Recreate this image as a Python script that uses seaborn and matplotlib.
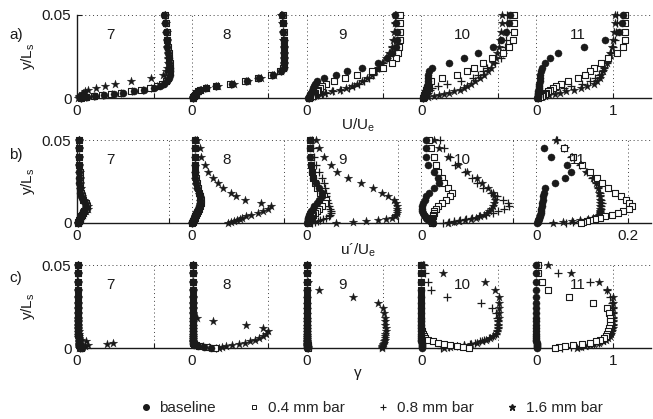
import numpy as np
import pandas as pd
import matplotlib
matplotlib.use('Agg')
import matplotlib.pyplot as plt
from matplotlib.lines import Line2D
import seaborn as sns

# wall-normal positions y/Ls shared by all profiles
Y = [0.050, 0.045, 0.040, 0.035, 0.031, 0.027, 0.024, 0.021, 0.018, 0.016, 0.014, 0.012,
     0.010, 0.0085, 0.007, 0.006, 0.005, 0.004, 0.0032, 0.0025, 0.0018, 0.0012, 0.0007, 0.0003]
STATIONS = ['7', '8', '9', '10', '11']
CASES = ['baseline', '0.4 mm bar', '0.8 mm bar', '1.6 mm bar']
nan = np.nan

# a) mean velocity U/Ue, one list per station
U_base = [
    [1.14, 1.15, 1.16, 1.17, 1.18, 1.19, 1.20, 1.20, 1.21, 1.21, 1.21, 1.20, 1.18, 1.14, 1.08, 1.00, 0.88, 0.74, 0.60, 0.48, 0.35, 0.23, 0.13, 0.05],
    [1.18, 1.19, 1.19, 1.20, 1.20, 1.21, 1.21, 1.21, 1.20, 1.16, 1.06, 0.88, 0.72, 0.52, 0.32, 0.18, 0.11, 0.08, 0.06, 0.05, 0.04, 0.03, 0.02, 0.01],
    [1.16, 1.17, 1.18, 1.18, 1.17, 1.12, 1.05, 0.93, 0.72, 0.53, 0.38, 0.23, 0.13, 0.11, 0.10, 0.09, 0.08, 0.07, 0.06, 0.05, 0.05, 0.04, 0.03, 0.02],
    [1.16, 1.14, 1.10, 1.04, 0.94, 0.74, 0.56, 0.36, 0.14, 0.10, 0.09, 0.09, 0.08, 0.08, 0.07, 0.07, 0.06, 0.06, 0.05, 0.05, 0.04, 0.04, 0.03, 0.02],
    [1.13, 1.12, 1.08, 0.90, 0.63, 0.28, 0.18, 0.12, 0.07, 0.06, 0.05, 0.05, 0.05, 0.04, 0.04, 0.04, 0.04, 0.03, 0.03, 0.03, 0.03, 0.02, 0.02, 0.01],
]
U_sq = [
    [1.15, 1.16, 1.17, 1.18, 1.19, 1.20, 1.20, 1.21, 1.21, 1.21, 1.20, 1.19, 1.16, 1.11, 1.04, 0.96, 0.84, 0.70, 0.57, 0.45, 0.33, 0.22, 0.12, 0.05],
    [1.19, 1.19, 1.20, 1.20, 1.21, 1.21, 1.21, 1.20, 1.19, 1.15, 1.04, 0.86, 0.70, 0.50, 0.31, 0.18, 0.11, 0.08, 0.06, 0.05, 0.04, 0.03, 0.02, 0.01],
    [1.22, 1.22, 1.22, 1.22, 1.21, 1.20, 1.17, 1.12, 1.00, 0.86, 0.66, 0.50, 0.36, 0.26, 0.20, 0.17, 0.15, 0.13, 0.11, 0.10, 0.08, 0.07, 0.05, 0.03],
    [1.21, 1.21, 1.21, 1.20, 1.15, 1.07, 0.92, 0.80, 0.69, 0.60, 0.46, 0.27, 0.12, 0.09, 0.08, 0.07, 0.06, 0.06, 0.05, 0.05, 0.04, 0.04, 0.03, 0.02],
    [1.16, 1.16, 1.16, 1.16, 1.14, 1.05, 0.94, 0.85, 0.76, 0.70, 0.64, 0.54, 0.42, 0.33, 0.26, 0.22, 0.18, 0.15, 0.13, 0.11, 0.09, 0.07, 0.05, 0.03],
]
U_pl = [
    [1.15, 1.15, 1.16, 1.17, 1.18, 1.19, 1.19, 1.20, 1.20, 1.20, 1.20, 1.19, 1.17, 1.12, 1.05, 0.97, 0.86, 0.72, 0.58, 0.46, 0.34, 0.22, 0.12, 0.05],
    [1.18, 1.19, 1.19, 1.20, 1.20, 1.20, 1.21, 1.20, 1.19, 1.16, 1.05, 0.87, 0.71, 0.51, 0.31, 0.17, 0.11, 0.08, 0.06, 0.05, 0.04, 0.03, 0.02, 0.01],
    [1.17, 1.16, 1.15, 1.14, 1.12, 1.09, 1.05, 1.00, 0.95, 0.91, 0.87, 0.81, 0.75, 0.69, 0.62, 0.55, 0.45, 0.35, 0.25, 0.20, 0.15, 0.11, 0.07, 0.03],
    [1.12, 1.12, 1.12, 1.11, 1.09, 1.07, 1.04, 0.96, 0.86, 0.80, 0.74, 0.67, 0.52, 0.33, 0.22, 0.14, 0.11, 0.09, 0.08, 0.07, 0.06, 0.05, 0.03, 0.02],
    [1.05, 1.05, 1.04, 1.03, 1.01, 0.98, 0.95, 0.92, 0.89, 0.86, 0.82, 0.77, 0.70, 0.60, 0.46, 0.36, 0.24, 0.17, 0.13, 0.10, 0.08, 0.06, 0.04, 0.02],
]
U_st = [
    [1.15, 1.16, 1.17, 1.18, 1.18, 1.19, 1.19, 1.19, 1.18, 1.16, 1.12, 0.97, 0.70, 0.50, 0.37, 0.25, 0.15, 0.10, 0.08, 0.06, 0.05, 0.03, 0.02, 0.01],
    [1.17, 1.18, 1.19, 1.19, 1.20, 1.20, 1.21, 1.21, 1.20, 1.17, 1.08, 0.90, 0.74, 0.55, 0.34, 0.20, 0.12, 0.08, 0.06, 0.05, 0.04, 0.03, 0.02, 0.01],
    [1.16, 1.15, 1.14, 1.13, 1.11, 1.08, 1.04, 0.99, 0.93, 0.89, 0.85, 0.79, 0.72, 0.66, 0.59, 0.52, 0.43, 0.33, 0.24, 0.19, 0.14, 0.10, 0.06, 0.03],
    [1.05, 1.05, 1.04, 1.03, 1.01, 0.99, 0.97, 0.94, 0.91, 0.87, 0.82, 0.76, 0.70, 0.65, 0.60, 0.56, 0.50, 0.43, 0.36, 0.30, 0.23, 0.16, 0.09, 0.04],
    [1.03, 1.03, 1.02, 1.01, 0.99, 0.97, 0.95, 0.92, 0.89, 0.87, 0.85, 0.83, 0.80, 0.76, 0.67, 0.59, 0.49, 0.39, 0.31, 0.24, 0.17, 0.11, 0.07, 0.03],
]

# b) velocity fluctuation u'/Ue
R_base = [
    [0.004, 0.004, 0.004, 0.005, 0.005, 0.005, 0.005, 0.006, 0.007, 0.009, 0.013, 0.017, 0.019, 0.017, 0.014, 0.012, 0.010, 0.008, 0.007, 0.006, 0.005, 0.004, 0.003, 0.002],
    [0.007, 0.006, 0.006, 0.006, 0.007, 0.008, 0.010, 0.012, 0.015, 0.017, 0.018, 0.018, 0.016, 0.014, 0.012, 0.010, 0.008, 0.007, 0.005, 0.004, 0.003, 0.002, 0.001, 0.001],
    [0.007, 0.007, 0.008, 0.009, 0.011, 0.014, 0.020, 0.028, 0.034, 0.033, 0.028, 0.022, 0.017, 0.013, 0.010, 0.008, 0.006, 0.005, 0.004, 0.003, 0.003, 0.002, 0.002, 0.001],
    [0.009, 0.009, 0.010, 0.015, 0.027, 0.036, 0.039, 0.028, 0.016, 0.011, 0.007, 0.004, 0.002, 0.001, 0.002, 0.003, 0.005, 0.007, 0.010, 0.013, 0.016, 0.019, 0.022, 0.025],
    [nan, 0.017, 0.032, 0.066, 0.075, 0.062, 0.042, 0.020, 0.016, 0.015, 0.014, 0.013, 0.012, 0.011, 0.010, 0.010, 0.009, 0.008, 0.007, 0.006, 0.005, 0.004, 0.003, 0.002],
]
R_sq = [
    [0.005, 0.005, 0.005, 0.005, 0.006, 0.006, 0.006, 0.007, 0.008, 0.010, 0.014, 0.019, 0.021, 0.019, 0.016, 0.013, 0.011, 0.009, 0.007, 0.006, 0.005, 0.004, 0.003, 0.002],
    [0.008, 0.007, 0.007, 0.007, 0.008, 0.009, 0.011, 0.013, 0.016, 0.018, 0.019, 0.019, 0.017, 0.015, 0.013, 0.011, 0.009, 0.007, 0.006, 0.005, 0.004, 0.003, 0.002, 0.001],
    [0.008, 0.008, 0.009, 0.010, 0.012, 0.015, 0.018, 0.022, 0.030, 0.038, 0.043, 0.040, 0.034, 0.028, 0.022, 0.018, 0.015, 0.012, 0.010, 0.008, 0.006, 0.005, 0.004, 0.003],
    [0.017, 0.021, 0.028, 0.032, 0.037, 0.044, 0.050, 0.058, 0.067, 0.062, 0.054, 0.045, 0.036, 0.031, 0.028, 0.027, 0.026, 0.025, 0.024, 0.023, 0.022, 0.022, 0.023, 0.024],
    [nan, 0.060, 0.080, 0.100, 0.117, 0.132, 0.144, 0.157, 0.172, 0.184, 0.196, 0.203, 0.208, 0.203, 0.190, 0.178, 0.165, 0.150, 0.138, 0.128, 0.118, 0.110, 0.103, 0.098],
]
R_pl = [
    [0.004, 0.004, 0.005, 0.005, 0.005, 0.006, 0.006, 0.006, 0.008, 0.010, 0.013, 0.018, 0.020, 0.018, 0.015, 0.012, 0.010, 0.008, 0.007, 0.006, 0.005, 0.004, 0.003, 0.002],
    [0.006, 0.006, 0.006, 0.007, 0.007, 0.008, 0.010, 0.012, 0.015, 0.017, 0.018, 0.018, 0.017, 0.014, 0.012, 0.010, 0.008, 0.006, 0.005, 0.004, 0.003, 0.002, 0.001, 0.001],
    [0.012, 0.014, 0.017, 0.020, 0.027, 0.034, 0.038, 0.040, 0.042, 0.043, 0.045, 0.047, 0.049, 0.051, 0.053, 0.054, 0.052, 0.048, 0.042, 0.036, 0.030, 0.024, 0.018, 0.012],
    [0.040, 0.050, 0.062, 0.074, 0.095, 0.110, 0.122, 0.135, 0.152, 0.165, 0.178, 0.188, 0.190, 0.180, 0.166, 0.155, 0.140, 0.125, 0.110, 0.097, 0.085, 0.072, 0.060, 0.048],
    [0.045, 0.060, 0.076, 0.095, 0.110, 0.122, 0.130, 0.135, 0.138, 0.140, 0.142, 0.143, 0.142, 0.141, 0.140, 0.139, 0.138, 0.135, 0.130, 0.122, 0.110, 0.095, 0.080, 0.065],
]
R_st = [
    [0.004, 0.004, 0.005, 0.005, 0.006, 0.006, 0.007, 0.008, 0.009, 0.011, 0.015, 0.020, 0.023, 0.024, 0.020, 0.016, 0.012, 0.010, 0.008, 0.007, 0.006, 0.005, 0.004, 0.003],
    [0.012, 0.017, 0.021, 0.029, 0.036, 0.047, 0.057, 0.069, 0.086, 0.096, 0.115, 0.150, 0.172, 0.165, 0.155, 0.145, 0.128, 0.118, 0.110, 0.105, 0.098, 0.092, 0.085, 0.078],
    [0.020, 0.027, 0.038, 0.054, 0.067, 0.090, 0.118, 0.145, 0.165, 0.178, 0.190, 0.195, 0.197, 0.197, 0.196, 0.196, 0.195, 0.192, 0.185, 0.172, 0.155, 0.130, 0.100, 0.065],
    [0.028, 0.039, 0.057, 0.080, 0.100, 0.120, 0.133, 0.145, 0.155, 0.158, 0.160, 0.159, 0.156, 0.152, 0.148, 0.143, 0.137, 0.128, 0.118, 0.108, 0.095, 0.082, 0.070, 0.058],
    [0.043, 0.062, 0.078, 0.097, 0.108, 0.124, 0.131, 0.135, 0.137, 0.138, 0.139, 0.140, 0.140, 0.140, 0.139, 0.138, 0.136, 0.132, 0.124, 0.112, 0.096, 0.078, 0.058, 0.036],
]

# c) intermittency gamma
G_base = [
    [0.01, 0.01, 0.01, 0.01, 0.01, 0.01, 0.01, 0.01, 0.01, 0.01, 0.01, 0.01, 0.01, 0.01, 0.01, 0.02, 0.02, 0.02, 0.02, 0.03, 0.03, 0.04, 0.05, 0.06],
    [0.01, 0.01, 0.01, 0.01, 0.01, 0.01, 0.01, 0.01, 0.01, 0.01, 0.01, 0.01, 0.01, 0.01, 0.01, 0.01, 0.01, 0.01, 0.02, 0.02, 0.03, 0.08, 0.16, 0.25],
    [0.00, 0.00, 0.00, 0.00, 0.00, 0.00, 0.00, 0.00, 0.00, 0.00, 0.00, 0.00, 0.00, 0.00, 0.00, 0.00, 0.00, 0.00, 0.01, 0.01, 0.01, 0.01, 0.01, 0.01],
    [0.00, 0.00, 0.00, 0.00, 0.00, 0.00, 0.00, 0.00, 0.00, 0.00, 0.00, 0.00, 0.00, 0.00, 0.00, 0.00, 0.00, 0.00, 0.01, 0.01, 0.01, 0.01, 0.01, 0.01],
    [0.00, 0.00, 0.00, 0.00, 0.00, 0.00, 0.00, 0.00, 0.00, 0.00, 0.00, 0.00, 0.00, 0.00, 0.00, 0.00, 0.00, 0.00, 0.01, 0.01, 0.01, 0.01, 0.01, 0.01],
]
G_sq = [
    [0.01, 0.01, 0.01, 0.01, 0.01, 0.01, 0.01, 0.01, 0.01, 0.01, 0.01, 0.01, 0.01, 0.01, 0.02, 0.02, 0.02, 0.02, 0.03, 0.03, 0.03, 0.04, 0.04, 0.05],
    [0.01, 0.01, 0.01, 0.01, 0.01, 0.01, 0.01, 0.01, 0.01, 0.01, 0.01, 0.01, 0.01, 0.01, 0.01, 0.01, 0.01, 0.02, 0.02, 0.03, 0.05, 0.10, 0.20, 0.30],
    [0.00, 0.00, 0.00, 0.00, 0.00, 0.00, 0.00, 0.00, 0.00, 0.00, 0.00, 0.01, 0.01, 0.01, 0.01, 0.01, 0.01, 0.01, 0.01, 0.01, 0.02, 0.02, 0.02, 0.02],
    [0.00, 0.00, 0.00, 0.00, 0.00, 0.00, 0.00, 0.00, 0.00, 0.00, 0.00, 0.00, 0.01, 0.02, 0.03, 0.05, 0.09, 0.15, 0.22, 0.30, 0.38, 0.46, 0.55, 0.62],
    [0.02, 0.03, 0.07, 0.16, 0.43, 0.74, 0.93, 0.95, 0.96, 0.96, 0.96, 0.95, 0.94, 0.93, 0.91, 0.88, 0.84, 0.78, 0.70, 0.60, 0.48, 0.38, 0.30, 0.24],
]
G_pl = [
    [0.01, 0.01, 0.01, 0.01, 0.01, 0.01, 0.01, 0.01, 0.01, 0.01, 0.01, 0.01, 0.01, 0.01, 0.01, 0.02, 0.02, 0.02, 0.02, 0.02, 0.03, 0.03, 0.04, 0.04],
    [0.01, 0.01, 0.01, 0.01, 0.01, 0.01, 0.01, 0.01, 0.01, 0.01, 0.01, 0.01, 0.01, 0.01, 0.01, 0.01, 0.02, 0.02, 0.03, 0.04, 0.07, 0.14, 0.22, 0.32],
    [0.00, 0.00, 0.00, 0.00, 0.00, 0.00, 0.00, 0.00, 0.00, 0.00, 0.00, 0.00, 0.00, 0.01, 0.01, 0.01, 0.01, 0.01, 0.01, 0.01, 0.01, 0.02, 0.02, 0.02],
    [0.04, 0.05, 0.08, 0.13, 0.33, 0.78, 0.92, 0.97, 0.99, 1.00, 1.00, 1.00, 0.99, 0.97, 0.93, 0.88, 0.82, 0.76, 0.70, 0.64, 0.56, 0.46, 0.36, 0.26],
    [0.03, 0.29, 0.70, 0.93, 0.97, 0.99, 1.00, 1.00, 1.00, 1.00, 1.00, 0.99, 0.98, 0.97, 0.95, 0.93, 0.90, 0.86, 0.82, 0.76, 0.68, 0.58, 0.46, 0.34],
]
G_st = [
    [0.01, 0.01, 0.01, 0.01, 0.01, 0.01, 0.01, 0.01, 0.01, 0.01, 0.01, 0.01, 0.02, 0.02, 0.02, 0.03, 0.05, 0.12, 0.47, 0.39, 0.15, 0.10, 0.06, 0.03],
    [0.01, 0.01, 0.01, 0.01, 0.01, 0.01, 0.01, 0.02, 0.065, 0.28, 0.71, 0.93, 0.99, 0.97, 0.93, 0.88, 0.82, 0.76, 0.70, 0.62, 0.53, 0.45, 0.40, 0.35],
    [0.01, 0.01, 0.02, 0.16, 0.60, 0.93, 1.00, 1.01, 1.02, 1.03, 1.03, 1.04, 1.04, 1.03, 1.03, 1.02, 1.02, 1.01, 1.01, 1.00, 1.00, 0.99, 0.99, 0.98],
    [0.02, 0.28, 0.83, 0.96, 1.01, 1.01, 1.01, 1.01, 1.01, 1.00, 1.00, 1.00, 0.99, 0.97, 0.94, 0.90, 0.85, 0.79, 0.72, 0.65, 0.56, 0.47, 0.38, 0.29],
    [0.16, 0.46, 0.82, 0.93, 1.00, 1.01, 1.01, 1.01, 1.00, 1.00, 1.00, 1.00, 0.99, 0.98, 0.96, 0.94, 0.91, 0.87, 0.82, 0.76, 0.70, 0.64, 0.58, 0.53],
]

# panel, station spacing on the x axis, right tick, xlabel, data
panels = [
    ('a)', 1.5, 1.0, '1', 'U/U$_\\mathregular{e}$', [U_base, U_sq, U_pl, U_st]),
    ('b)', 0.25, 0.2, '0.2', 'u\u00b4/U$_\\mathregular{e}$', [R_base, R_sq, R_pl, R_st]),
    ('c)', 1.5, 1.0, '1', '\u03b3', [G_base, G_sq, G_pl, G_st]),
]

# long table: profiles shifted by station
records = []
for name, step, _, _, _, series in panels:
    for case, prof in zip(CASES, series):
        for k, st in enumerate(STATIONS):
            for yy, v in zip(Y, prof[k]):
                records.append((name, st, case, yy, v, v + k * step))
df = pd.DataFrame(records, columns=['panel', 'station', 'case', 'y', 'value', 'xpos'])

sns.set_theme(style='white')
plt.rcParams['font.family'] = ['Liberation Sans', 'DejaVu Sans']
plt.rcParams['mathtext.fontset'] = 'custom'
plt.rcParams['mathtext.rm'] = 'Liberation Sans'

styles = {
    'baseline': dict(marker='o', s=26, color='k', edgecolor='k', linewidth=0.3),
    '0.4 mm bar': dict(marker='s', s=15, facecolor='white', edgecolor='k', linewidth=0.8),
    '0.8 mm bar': dict(marker='+', s=28, color='k', linewidth=0.9),
    '1.6 mm bar': dict(marker='*', s=42, color='k', edgecolor='k', linewidth=0.2),
}
draw_order = ['1.6 mm bar', '0.8 mm bar', '0.4 mm bar', 'baseline']

W, H = 653, 419
fig = plt.figure(figsize=(W / 100, H / 100), dpi=100)
bottoms = [98, 223, 348]
label_y = [35, 155, 278]
station_fx = [0.0575, 0.261, 0.463, 0.672, 0.873]

for (name, step, tick1, tick1_lab, xlab, _), bot, ly in zip(panels, bottoms, label_y):
    ax = fig.add_axes([77 / W, 1 - bot / H, 574 / W, 83 / H])
    sub = df[df['panel'] == name]
    for case in draw_order:
        sns.scatterplot(data=sub[sub['case'] == case], x='xpos', y='y', ax=ax,
                        legend=False, clip_on=False, zorder=3, **styles[case])
    ax.set_xlim(0, 5 * step)
    ax.set_ylim(0, 0.05)
    ticks, labels = [], []
    for k in range(5):
        ticks += [k * step, k * step + tick1]
        labels += ['0', tick1_lab if k == 4 else '']
    ax.set_xticks(ticks)
    ax.set_xticklabels(labels)
    ax.set_yticks([0, 0.05])
    ax.set_yticklabels(['0', '0.05'])
    ax.tick_params(direction='in', length=3.5, width=0.8, colors='k', labelsize=11,
                   pad=4, bottom=True, left=True)
    ax.grid(True, linestyle=(0, (1, 3)), color='0.25', linewidth=0.7)
    ax.set_axisbelow(True)
    for side in ['top', 'right']:
        ax.spines[side].set_visible(False)
    for side in ['left', 'bottom']:
        ax.spines[side].set_color('k')
        ax.spines[side].set_linewidth(1.0)
    ax.set_xlabel(xlab, fontsize=11, color='k')
    ax.xaxis.set_label_coords(0.49, -0.22)
    ax.set_ylabel('y/L$_\\mathregular{s}$', fontsize=11, color='k')
    ax.yaxis.set_label_coords(-0.07, 0.5)
    for fx, st in zip(station_fx, STATIONS):
        ax.text(fx, 0.76, st, transform=ax.transAxes, ha='center', va='center',
                fontsize=11, color='k')
    fig.text(16 / W, 1 - ly / H, name, ha='center', va='center', fontsize=11, color='k')

handles = [
    Line2D([], [], linestyle='none', marker='o', markersize=4, color='k'),
    Line2D([], [], linestyle='none', marker='s', markersize=3.5, markerfacecolor='white',
           markeredgecolor='k', markeredgewidth=0.7),
    Line2D([], [], linestyle='none', marker='+', markersize=4.5, color='k', markeredgewidth=0.8),
    Line2D([], [], linestyle='none', marker='*', markersize=5, color='k'),
]
fig.legend(handles, CASES, loc='center', bbox_to_anchor=(0.567, 1 - 408 / H), ncol=4,
           frameon=False, fontsize=11, handlelength=1.0, handletextpad=0.4,
           columnspacing=2.0)

fig.savefig('out.png', dpi=100)
